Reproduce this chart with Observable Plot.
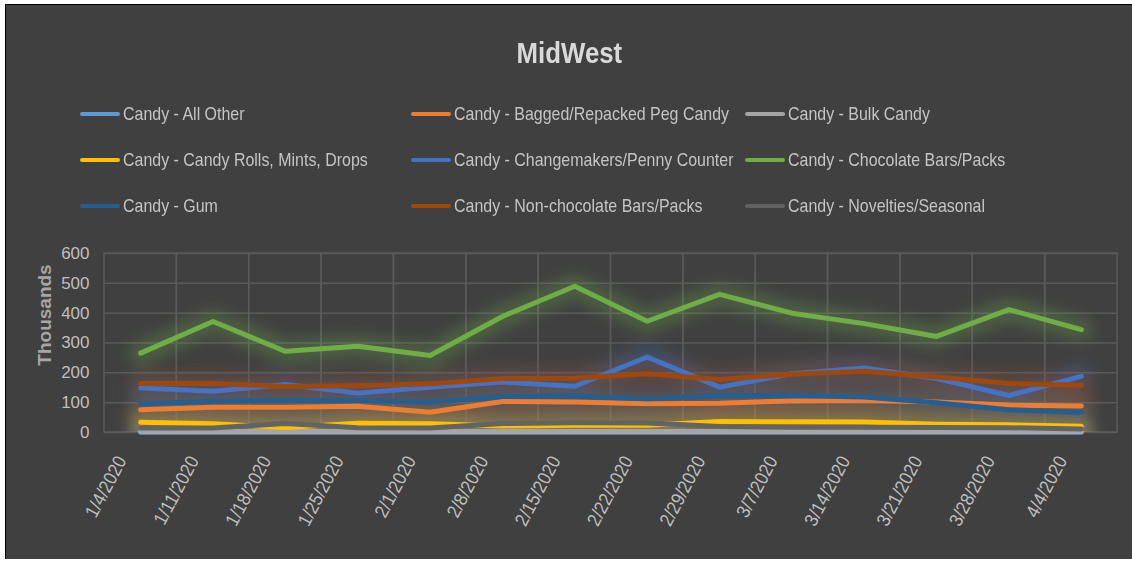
<!DOCTYPE html>
<html><head><meta charset="utf-8">
<script src="https://cdn.jsdelivr.net/npm/d3@7"></script>
<script src="https://cdn.jsdelivr.net/npm/@observablehq/plot@0.6"></script>
<style>
body{margin:0;background:#fff;}
#chart{position:absolute;left:5px;top:4px;width:1127px;height:554px;background:#404040;border-left:1px solid #000;border-top:1px solid #000;font-family:"Liberation Sans",sans-serif;overflow:hidden;}
#title{position:absolute;left:0;width:100%;top:31px;text-align:center;}
#title span{display:inline-block;font-weight:bold;font-size:30px;color:#d9d9d9;transform:scaleX(0.86);}
.leg{position:absolute;display:flex;align-items:center;font-size:19px;color:#c4c4c4;white-space:nowrap;height:24px;}
.leg span{display:inline-block;transform:scaleX(0.84);transform-origin:left center;}
.sw{width:40px;height:4px;border-radius:2px;margin-right:3px;}
#plot{position:absolute;left:0;top:225px;}
#ylab{position:absolute;left:39px;top:310px;transform:translate(-50%,-50%) rotate(-90deg);font-weight:bold;font-size:19px;color:#a6a6a6;white-space:nowrap;}
</style></head>
<body>
<div id="chart">
  <div id="title"><span>MidWest</span></div>
  <div id="legend"></div>
  <div id="ylab">Thousands</div>
  <div id="plot"></div>
</div>
<script>
const dates = ["1/4/2020","1/11/2020","1/18/2020","1/25/2020","2/1/2020","2/8/2020","2/15/2020","2/22/2020","2/29/2020","3/7/2020","3/14/2020","3/21/2020","3/28/2020","4/4/2020"];
const seriesNames = ["Candy - All Other","Candy - Bagged/Repacked Peg Candy","Candy - Bulk Candy","Candy - Candy Rolls, Mints, Drops","Candy - Changemakers/Penny Counter","Candy - Chocolate Bars/Packs","Candy - Gum","Candy - Non-chocolate Bars/Packs","Candy - Novelties/Seasonal"];
const seriesColors = ["#5B9BD5","#ED7D31","#A5A5A5","#FFC000","#4472C4","#70AD47","#255E91","#9E480E","#636363"];
const allOther      = [1,1,1,1,1,1,1,1,1,1,1,1,1,1];
const bagged        = [76,85,85,88,68,104,102,96,98,106,107,102,92,89];
const bulk          = [3,3,3,3,3,3,3,3,3,3,3,3,3,3];
const rolls         = [34,29,17,31,29,22,24,24,37,36,35,28,26,21];
const changemakers  = [149,138,161,132,152,169,155,253,152,197,216,181,124,188];
const chocolate     = [266,372,272,289,258,389,490,373,463,400,365,322,412,345];
const gum           = [96,105,107,107,102,121,122,113,123,124,119,100,76,68];
const nonChocolate  = [164,164,154,157,163,181,182,197,178,195,205,186,164,158];
const novelties     = [15,15,30,16,15,30,33,32,20,18,18,17,16,12];
const yTicks = [0,100,200,300,400,500,600];

const valuesBySeries = [allOther,bagged,bulk,rolls,changemakers,chocolate,gum,nonChocolate,novelties];
const data = [];
seriesNames.forEach((s,i)=>valuesBySeries[i].forEach((v,j)=>data.push({series:s,date:dates[j],value:v})));

// legend
const legend = document.getElementById("legend");
const colX = [74,405,739], rowY = [97,143,189];
seriesNames.forEach((s,i)=>{
  const d = document.createElement("div");
  d.className="leg";
  d.style.left = colX[i%3]+"px"; d.style.top = rowY[Math.floor(i/3)]+"px";
  d.innerHTML = `<div class="sw" style="background:${seriesColors[i]}"></div><span>${s}</span>`;
  legend.appendChild(d);
});

const grid = "#5a5a5a";
const yMax = yTicks[yTicks.length-1];
const svg = Plot.plot({
  width: 1126, height: 328,
  marginLeft: 98, marginRight: 15, marginTop: 23, marginBottom: 126,
  style: {background:"transparent", fontFamily:'"Liberation Sans",sans-serif', overflow:"visible"},
  x: {type:"band", domain: dates, padding: 0, round:false},
  y: {domain:[0,yMax]},
  color: {domain: seriesNames, range: seriesColors},
  marks: [
    Plot.gridY(yTicks, {stroke:grid, strokeOpacity:1, strokeWidth:1.5}),
    Plot.barY(dates, {x: d=>d, y1: 0, y2: yMax, fill:"none", stroke:grid, strokeWidth:1.5, inset:0}),
    Plot.line(data, {x:"date", y:"value", z:"series", stroke:"series", strokeWidth:24, strokeOpacity:0.28, strokeLinejoin:"round", clip:true, ariaDescription:"glow"}),
    Plot.line(data, {x:"date", y:"value", z:"series", stroke:"series", strokeWidth:5, strokeLinejoin:"round"}),
    Plot.axisY(yTicks, {tickSize:0, tickPadding:15, fontSize:17, color:"#bfbfbf", label:null}),
    Plot.axisX({tickSize:0, tickRotate:-62, tickPadding:25, dx:-19, fontSize:19, color:"#bfbfbf", label:null, ariaDescription:"xticks"})
  ]
});
// glow blur
const ns = "http://www.w3.org/2000/svg";
const defs = document.createElementNS(ns,"defs");
defs.innerHTML = `<filter id="glowblur" filterUnits="userSpaceOnUse" x="0" y="0" width="1126" height="328"><feGaussianBlur stdDeviation="7"/></filter>`;
svg.insertBefore(defs, svg.firstChild);
const g = svg.querySelector('g[aria-description="glow"]');
if (g) g.setAttribute("filter","url(#glowblur)");
// slightly condense tick label glyphs along their baseline (Calibri-like)
svg.querySelectorAll('g[aria-description="xticks"] text').forEach(t=>{
  const tr = t.getAttribute("transform");
  if (tr && tr.includes("rotate")) t.setAttribute("transform", tr + " scale(0.9,1)");
});
document.getElementById("plot").appendChild(svg);
</script>
</body></html>
